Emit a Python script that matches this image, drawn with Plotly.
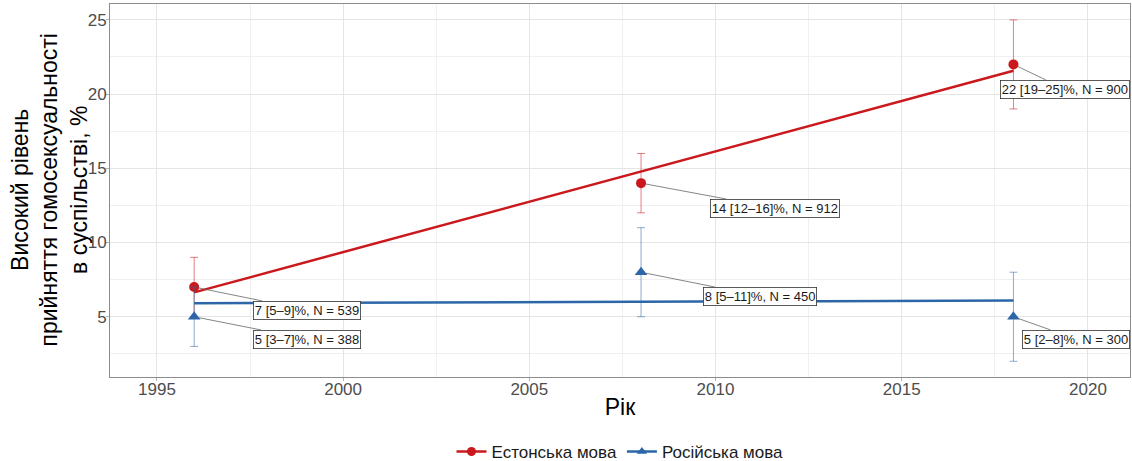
import plotly.graph_objects as go

years = [1996, 2008, 2018]
est_vals = [7, 14, 22]
est_lo = [5, 12, 19]
est_hi = [9, 16, 25]
est_n = [539, 912, 900]
rus_vals = [5, 8, 5]
rus_lo = [3, 5, 2]
rus_hi = [7, 11, 8]
rus_n = [388, 450, 300]

trend_years = [1996, 2018]
est_trend = [6.64, 21.57]
rus_trend = [5.91, 6.09]

# label anchor positions (data coords)
est_lab_x = [1999.03, 2011.6, 2019.38]
est_lab_y = [5.45, 12.32, 20.34]
rus_lab_x = [1999.03, 2011.2, 2019.68]
rus_lab_y = [3.50, 6.39, 3.50]

names = ["Естонська мова", "Російська мова"]
y_title = "Високий рівень<br>прийняття гомосексуальності<br>в суспільстві, %"
x_title = "Рік"

RED = "#CB181D"
BLUE = "#2C66A8"
RED_EB = "rgba(203,24,29,0.55)"
BLUE_EB = "rgba(44,102,168,0.55)"
FONT = "Liberation Sans, Arial"

fig = go.Figure()

series = [
    (names[0], est_vals, est_lo, est_hi, est_n, est_trend, RED, RED_EB, "circle", 10, est_lab_x, est_lab_y),
    (names[1], rus_vals, rus_lo, rus_hi, rus_n, rus_trend, BLUE, BLUE_EB, "triangle-up", 11, rus_lab_x, rus_lab_y),
]

for name, vals, lo, hi, ns, trend, col, ebcol, sym, msize, lx, ly in series:
    fig.add_trace(go.Scatter(
        x=years, y=vals, mode="markers",
        marker=dict(color=col, symbol=sym, size=msize),
        error_y=dict(type="data", symmetric=False,
                     array=[h - v for h, v in zip(hi, vals)],
                     arrayminus=[v - l for v, l in zip(vals, lo)],
                     color=ebcol, thickness=1, width=4),
        showlegend=False, hoverinfo="skip"))
    fig.add_trace(go.Scatter(
        x=trend_years, y=trend, mode="lines",
        line=dict(color=col, width=2.5), showlegend=False, hoverinfo="skip"))
    fig.add_trace(go.Scatter(
        x=[None], y=[None], mode="lines+markers", name=name,
        line=dict(color=col, width=2.5),
        marker=dict(color=col, symbol=sym, size=9)))
    for xv, yv, l, h, n, axv, ayv in zip(years, vals, lo, hi, ns, lx, ly):
        fig.add_annotation(
            x=xv, y=yv, ax=axv, ay=ayv, axref="x", ayref="y",
            text=f"{yv} [{l}–{h}]%, N = {n}",
            showarrow=True, arrowhead=0, arrowwidth=0.8, arrowcolor="#666666",
            standoff=5,
            font=dict(family=FONT, size=13, color="#1a1a1a"),
            bgcolor="white", bordercolor="#333333", borderwidth=0.8, borderpad=1)

# y axis title placed as a rotated annotation for precise positioning
fig.add_annotation(
    xref="paper", yref="paper", x=-0.0598, y=0.5, xanchor="center", yanchor="middle",
    text=y_title, textangle=-90, showarrow=False, align="center",
    font=dict(family=FONT, size=23, color="#000000"))

fig.update_layout(
    width=1132, height=461,
    margin=dict(l=110, r=2, t=4, b=84, autoexpand=False),
    plot_bgcolor="white", paper_bgcolor="white",
    font=dict(family=FONT, color="#000000"),
    legend=dict(orientation="h", x=0.5, xanchor="center", y=-0.201, yanchor="middle",
                font=dict(size=17, color="#1a1a1a")),
    xaxis=dict(range=[1993.74, 2021.13], tickmode="array", automargin=False,
               tickvals=[1995, 2000, 2005, 2010, 2015, 2020],
               ticks="outside", ticklen=3, tickcolor="#B3B3B3",
               ticklabelstandoff=-6,
               tickfont=dict(size=17, color="#4D4D4D"),
               showgrid=True, gridcolor="#E5E5E5", gridwidth=1,
               minor=dict(dtick=2.5, tick0=1992.5, showgrid=True, gridcolor="#F0F0F0", gridwidth=0.6),
               showline=True, linecolor="#8C8C8C", linewidth=1, mirror=True, zeroline=False,
               title=dict(text=x_title, font=dict(size=23, color="#000000"), standoff=0)),
    yaxis=dict(range=[0.94, 26.07], tickmode="array", tickvals=[5, 10, 15, 20, 25], automargin=False,
               ticks="outside", ticklen=3, tickcolor="#B3B3B3",
               ticklabelstandoff=-4,
               tickfont=dict(size=17, color="#4D4D4D"),
               showgrid=True, gridcolor="#E5E5E5", gridwidth=1,
               minor=dict(dtick=2.5, tick0=0, showgrid=True, gridcolor="#F0F0F0", gridwidth=0.6),
               showline=True, linecolor="#8C8C8C", linewidth=1, mirror=True, zeroline=False),
)

fig.write_html("out.html", config={"displayModeBar": False},
               post_script="document.body.style.margin='0';")
